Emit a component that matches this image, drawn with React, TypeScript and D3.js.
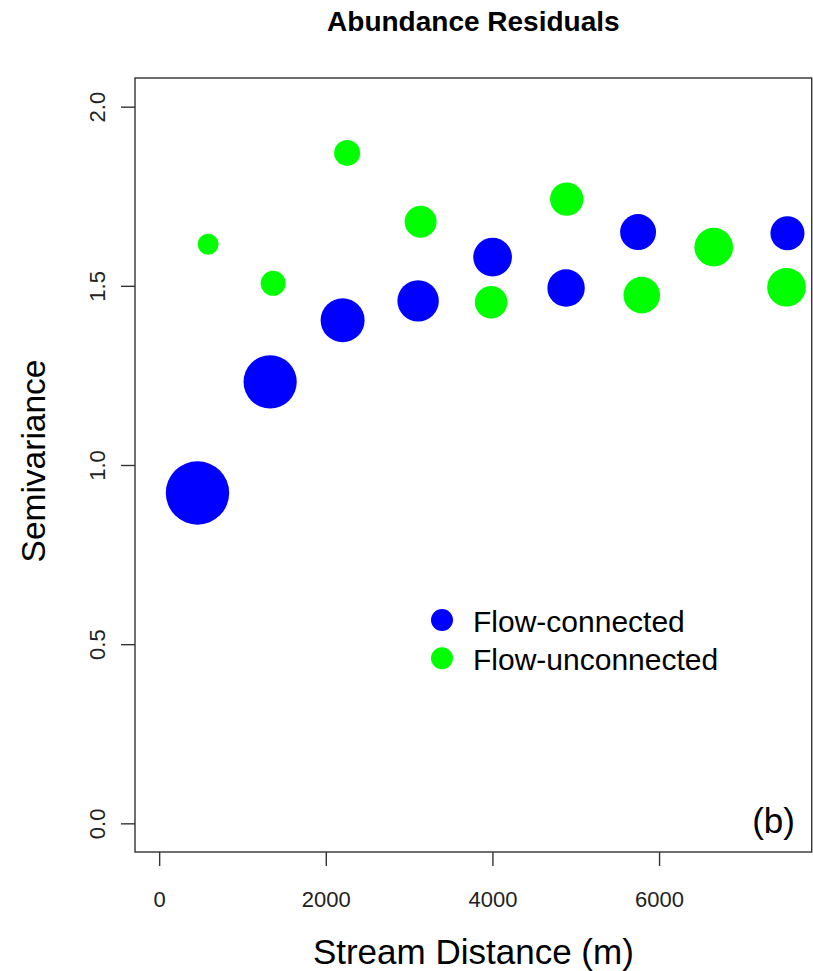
import * as d3 from 'd3';
import React from 'react';
import { useEffect, useRef } from 'react';

// stream distance (m), semivariance, and point size (cex-like weight)
const connectedDistance = [460, 1332, 2202, 3108, 4002, 4884, 5748, 7541];
const connectedSemivariance = [0.922, 1.232, 1.404, 1.458, 1.58, 1.494, 1.65, 1.647];
const connectedWeight = [3.0, 2.52, 2.08, 1.96, 1.83, 1.77, 1.7, 1.61];

const unconnectedDistance = [588, 1368, 2256, 3138, 3984, 4892, 5792, 6656, 7530];
const unconnectedSemivariance = [1.616, 1.507, 1.871, 1.679, 1.454, 1.742, 1.474, 1.608, 1.496];
const unconnectedWeight = [0.99, 1.18, 1.23, 1.51, 1.54, 1.58, 1.73, 1.83, 1.83];

const xTicks = [0, 2000, 4000, 6000];
const yTicks = [0, 0.5, 1, 1.5, 2];

const seriesNames = ['Flow-connected', 'Flow-unconnected'];
const seriesColors = ['#0000ff', '#00ff00'];

const WIDTH = 813;
const HEIGHT = 971;
const FONT = '"Liberation Sans", Arial, Helvetica, sans-serif';
const AXIS_COLOR = '#333';

const SemivariogramChart = () => {
    const svgRef = useRef<SVGSVGElement>(null);

    useEffect(() => {
        const svg = d3.select(svgRef.current);
        svg.selectAll('*').remove();

        const plot = { left: 135, right: 811.7, top: 78, bottom: 852 };

        const x = d3.scaleLinear().domain([-290, 7832]).range([plot.left, plot.right]);
        const y = d3.scaleLinear().domain([-0.08, 2.08]).range([plot.bottom, plot.top]);
        const r = d3.scaleLinear().domain([0, 3]).range([0, 31.7]);

        // points
        const series = [
            { dist: connectedDistance, semi: connectedSemivariance, w: connectedWeight, color: seriesColors[0] },
            { dist: unconnectedDistance, semi: unconnectedSemivariance, w: unconnectedWeight, color: seriesColors[1] }
        ];
        series.forEach(s => {
            const pts = s.dist.map((d, i) => ({ d, v: s.semi[i], w: s.w[i] }));
            svg.append('g')
                .selectAll('circle')
                .data(pts)
                .join('circle')
                .attr('cx', p => x(p.d))
                .attr('cy', p => y(p.v))
                .attr('r', p => r(p.w))
                .attr('fill', s.color);
        });

        // box
        svg.append('rect')
            .attr('x', plot.left)
            .attr('y', plot.top)
            .attr('width', plot.right - plot.left)
            .attr('height', plot.bottom - plot.top)
            .attr('fill', 'none')
            .attr('stroke', AXIS_COLOR)
            .attr('stroke-width', 1.4);

        // x axis
        const xAxis = svg.append('g')
            .attr('transform', 'translate(0,' + plot.bottom + ')')
            .call(d3.axisBottom(x).tickValues(xTicks).tickSize(14).tickFormat(d3.format('d')));
        xAxis.select('.domain').remove();
        xAxis.selectAll('line').attr('stroke', AXIS_COLOR).attr('stroke-width', 1.4);
        xAxis.selectAll('text')
            .attr('y', 55)
            .attr('dy', 0)
            .attr('fill', '#222')
            .style('font-family', FONT)
            .style('font-size', '22px');

        // y axis
        const yAxis = svg.append('g')
            .attr('transform', 'translate(' + plot.left + ',0)')
            .call(d3.axisLeft(y).tickValues(yTicks).tickSize(14).tickFormat(d3.format('.1f')));
        yAxis.select('.domain').remove();
        yAxis.selectAll('line').attr('stroke', AXIS_COLOR).attr('stroke-width', 1.4);
        yAxis.selectAll('text')
            .attr('x', 0)
            .attr('dy', 0)
            .attr('transform', 'translate(-30,0) rotate(-90)')
            .attr('text-anchor', 'middle')
            .attr('fill', '#222')
            .style('font-family', FONT)
            .style('font-size', '22px');

        // titles
        svg.append('text')
            .attr('x', (plot.left + plot.right) / 2)
            .attr('y', 31)
            .attr('text-anchor', 'middle')
            .style('font-family', FONT)
            .style('font-weight', 'bold')
            .style('font-size', '28px')
            .text('Abundance Residuals');

        svg.append('text')
            .attr('x', (plot.left + plot.right) / 2)
            .attr('y', 964)
            .attr('text-anchor', 'middle')
            .style('font-family', FONT)
            .style('font-size', '35px')
            .text('Stream Distance (m)');

        svg.append('text')
            .attr('transform', 'translate(45,461) rotate(-90)')
            .attr('text-anchor', 'middle')
            .style('font-family', FONT)
            .style('font-size', '33.5px')
            .text('Semivariance');

        svg.append('text')
            .attr('x', 795)
            .attr('y', 833)
            .attr('text-anchor', 'end')
            .style('font-family', FONT)
            .style('font-size', '35px')
            .text('(b)');

        // legend
        const legend = svg.append('g').attr('transform', 'translate(442,620)');
        seriesNames.forEach((name, i) => {
            legend.append('circle')
                .attr('cx', 0)
                .attr('cy', i * 38.3)
                .attr('r', 11)
                .attr('fill', seriesColors[i]);
            legend.append('text')
                .attr('x', 31)
                .attr('y', i * 38.3 + 11.5)
                .style('font-family', FONT)
                .style('font-size', '30px')
                .text(name);
        });
    }, []);

    return (
        <div style={{ position: 'absolute', left: 0, top: 0, background: '#fff' }}>
            <svg ref={svgRef} width={WIDTH} height={HEIGHT} style={{ display: 'block' }} />
        </div>
    );
};

export default function App() {
    return <SemivariogramChart />;
}
